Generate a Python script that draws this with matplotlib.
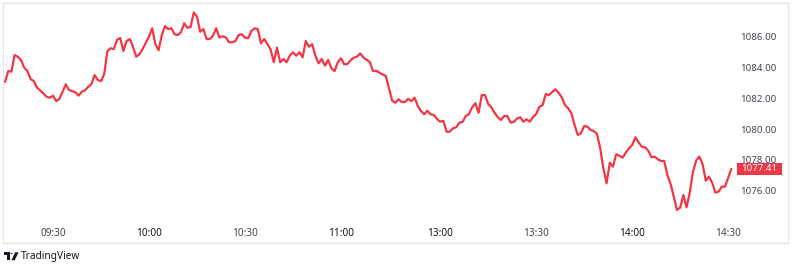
import matplotlib
matplotlib.use("Agg")
import matplotlib.pyplot as plt
import matplotlib.transforms as mtransforms
from matplotlib.patches import Rectangle, Circle, Polygon

# trading minutes counted from 09:15, lunch break squeezed out
minute = [0, 1, 2, 3, 4, 5, 6, 7, 8, 9, 10, 12, 13, 14, 15, 16, 17, 19, 20, 22,
          23, 24, 25, 26, 27, 28, 29, 30, 31, 32, 33, 34, 35, 36, 37, 38, 39, 40, 41, 42,
          43, 45, 46, 47, 48, 49, 50, 51, 52, 53, 54, 55, 56, 57, 58, 59, 60, 61, 62, 63,
          64, 65, 66, 67, 68, 69, 70, 71, 72, 73, 74, 75, 76, 77, 78, 79, 80, 81, 82, 83,
          84, 85, 86, 87, 88, 89, 90, 91, 92, 93, 94, 95, 96, 97, 98, 99, 100, 101, 102, 103,
          104, 105, 106, 107, 108, 109, 110, 111, 112, 114, 115, 116, 117, 119, 120, 121, 122, 123, 124, 125,
          126, 127, 128, 129, 130, 131, 132, 133, 134, 135, 136, 137, 138, 139, 140, 141, 142, 143, 144, 145,
          146, 147, 148, 149, 150, 151, 152, 153, 154, 155, 156, 157, 158, 159, 160, 161, 162, 163, 164, 165,
          166, 167, 168, 169, 170, 171, 172, 173, 174, 175, 176, 177, 178, 179, 180, 181, 182, 183, 184, 185,
          186, 187, 188, 189, 190, 191, 192, 193, 194, 195, 196, 197, 198, 199, 200, 201, 202, 203, 204, 205,
          206, 207, 208, 209, 210, 211, 212, 213, 214, 215, 216, 217, 218, 219, 220, 221, 222, 223, 224, 225,
          227]
price = [1083.06, 1083.77, 1083.73, 1084.81, 1084.70, 1084.49, 1083.99, 1083.77, 1083.25, 1083.12,
         1082.69, 1082.32, 1082.10, 1082.04, 1082.17, 1081.82, 1081.95, 1082.91, 1082.54, 1082.39,
         1082.17, 1082.43, 1082.52, 1082.75, 1082.91, 1083.51, 1083.19, 1083.12, 1083.56, 1085.07,
         1085.25, 1085.20, 1085.79, 1085.92, 1085.07, 1085.72, 1085.85, 1085.35, 1084.70, 1084.86,
         1085.20, 1086.00, 1086.55, 1085.51, 1085.12, 1086.11, 1086.69, 1086.50, 1086.55, 1086.16,
         1086.11, 1086.29, 1086.87, 1086.58, 1086.63, 1087.58, 1087.30, 1086.32, 1086.50, 1085.85,
         1085.85, 1086.06, 1086.55, 1085.94, 1086.03, 1085.96, 1085.64, 1085.64, 1085.72, 1086.11,
         1086.16, 1085.94, 1085.90, 1086.37, 1086.55, 1086.50, 1085.57, 1085.85, 1085.53, 1085.18,
         1084.34, 1085.29, 1084.34, 1084.55, 1084.34, 1084.77, 1084.99, 1084.77, 1084.99, 1084.66,
         1085.72, 1085.35, 1085.51, 1084.77, 1084.27, 1084.55, 1084.12, 1084.49, 1083.95, 1083.77,
         1084.34, 1084.60, 1084.21, 1084.23, 1084.47, 1084.64, 1084.70, 1084.92, 1084.65, 1084.36,
         1083.77, 1083.79, 1083.66, 1083.45, 1082.65, 1081.84, 1081.71, 1081.94, 1081.76, 1081.76,
         1081.97, 1081.81, 1082.04, 1081.50, 1081.18, 1080.96, 1081.19, 1080.96, 1080.92, 1080.66,
         1080.48, 1080.53, 1079.83, 1079.83, 1080.05, 1080.12, 1080.42, 1080.46, 1080.85, 1080.98,
         1081.42, 1081.68, 1081.06, 1082.21, 1082.21, 1081.63, 1081.42, 1081.06, 1080.77, 1080.59,
         1080.85, 1080.85, 1080.42, 1080.46, 1080.68, 1080.77, 1080.48, 1080.64, 1080.48, 1080.77,
         1080.98, 1081.45, 1081.55, 1082.28, 1082.21, 1082.41, 1082.58, 1082.36, 1082.06, 1081.56,
         1081.35, 1081.03, 1080.27, 1079.62, 1079.73, 1080.20, 1080.16, 1079.94, 1079.88, 1079.68,
         1078.77, 1077.45, 1076.48, 1077.82, 1077.56, 1078.36, 1078.27, 1078.14, 1078.47, 1078.75,
         1078.97, 1079.47, 1079.14, 1078.86, 1078.82, 1078.60, 1078.17, 1078.21, 1078.04, 1077.93,
         1077.93, 1077.02, 1076.44, 1075.61, 1074.75, 1074.90, 1075.72, 1074.92, 1075.87, 1077.23,
         1077.95, 1078.21, 1077.73, 1076.65, 1076.91, 1076.52, 1075.87, 1075.94, 1076.26, 1076.26,
         1077.41]

tick_times = ["09:30", "10:00", "10:30", "11:00", "13:00", "13:30", "14:00", "14:30"]
tick_bold = ["10:00", "11:00", "13:00", "14:00"]
price_ticks = [1076, 1078, 1080, 1082, 1084, 1086]

RED = "#f23645"
BORDER = "#e0e3eb"
TEXT = "#434651"


def session_minute(hhmm):
    h, m = map(int, hhmm.split(":"))
    t = h * 60 + m
    if t >= 13 * 60:
        return 136 + t - 13 * 60
    return t - (9 * 60 + 15)


plt.rcParams["font.family"] = ["Noto Sans", "DejaVu Sans"]

fig = plt.figure(figsize=(7.93, 2.68), dpi=100)
ax = fig.add_axes([3.3 / 793, 1 - 243 / 268, 784.7 / 793, 240.3 / 268])

ax.plot(minute, price, color=RED, lw=1.6, solid_joinstyle="round", solid_capstyle="round")

ax.set_xlim(-0.53, 244.7)
ax.set_ylim(1072.60, 1088.21)

for s in ax.spines.values():
    s.set_color(BORDER)
    s.set_linewidth(0.9)

# time axis labels sit inside the frame
ax.set_xticks([session_minute(t) for t in tick_times])
ax.set_xticklabels(tick_times)
ax.tick_params(axis="x", length=0, pad=-11, labelsize=7.2, labelcolor=TEXT)
for lbl in ax.get_xticklabels():
    if lbl.get_text() in tick_bold:
        lbl.set_fontweight("bold")
        lbl.set_color("#131722")

# price scale on the right, also inside
ax.yaxis.tick_right()
ax.set_yticks(price_ticks)
ax.set_yticklabels([f"{p:.2f}" for p in price_ticks])
ax.tick_params(axis="y", length=0, pad=-8.6, labelsize=7, labelcolor=TEXT)
for lbl in ax.get_yticklabels():
    lbl.set_horizontalalignment("right")

# last price tag
last = price[-1]
trans = mtransforms.blended_transform_factory(ax.transAxes, ax.transData)
box_h = 12 / 15.4
ax.add_patch(Rectangle((0.935, last - box_h / 2), 0.0575, box_h, transform=trans,
                       facecolor=RED, edgecolor="none", zorder=5, clip_on=False))
ax.text(0.9637, last, f"{last:.2f}", transform=trans, ha="center", va="center",
        color="white", fontsize=7, fontweight="bold", zorder=6)

# TradingView mark at the bottom left
W, H = 793, 268


def px(x, y):
    return (x / W, 1 - y / H)


fig.patches.append(Polygon([px(3.5, 252.3), px(9.8, 252.3), px(9.8, 260.3), px(7.2, 260.3),
                            px(7.2, 254.8), px(3.5, 254.8)], closed=True,
                           transform=fig.transFigure, facecolor="#131722", edgecolor="none"))
fig.patches.append(Circle(px(11.6, 253.6), 1.35 / W, transform=fig.transFigure,
                          facecolor="#131722", edgecolor="none"))
fig.patches.append(Polygon([px(15.2, 252.3), px(18.6, 252.3), px(14.6, 260.3), px(11.4, 260.3)],
                           closed=True, transform=fig.transFigure,
                           facecolor="#131722", edgecolor="none"))
fig.text(21 / W, 1 - 256.5 / H, "TradingView", ha="left", va="center",
         fontsize=7.3, color="#131722")

fig.savefig("out.png", dpi=100)
